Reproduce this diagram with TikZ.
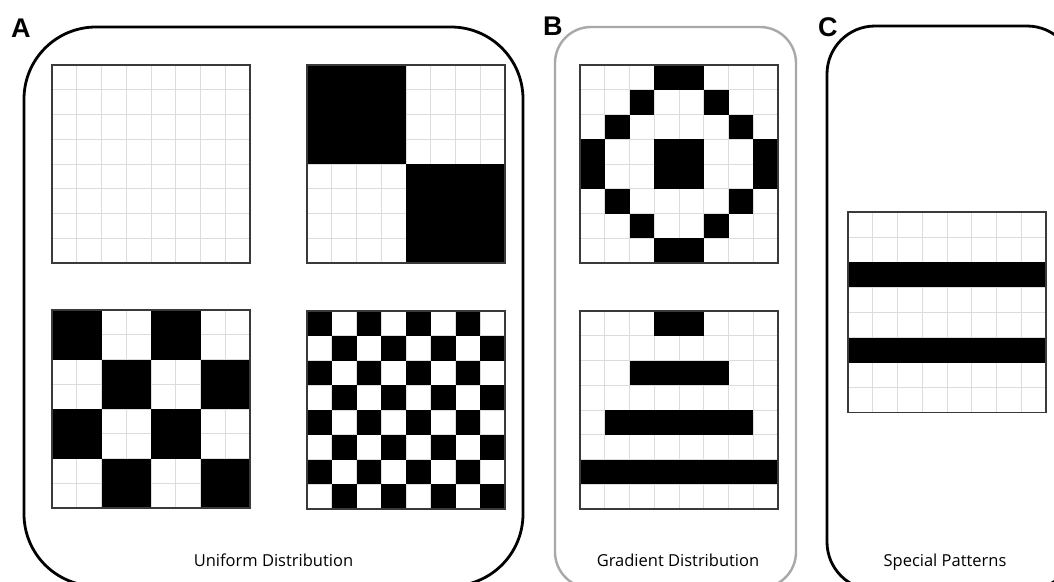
\documentclass[tikz,border=0pt]{standalone}
\usepackage{fontspec}
\setmainfont{Open Sans}
\newfontfamily\lblfont{Liberation Sans}
\definecolor{gridc}{HTML}{DCDCDC}
\definecolor{bframe}{HTML}{A8A8A8}
\definecolor{bordc}{HTML}{3A3A3A}
\tikzset{
  frameblack/.style={draw=black, line width=2.8pt},
  framegray/.style={draw=bframe, line width=2.4pt},
  gridline/.style={draw=gridc, line width=0.9pt},
  gridborder/.style={draw=bordc, line width=1.3pt},
  caption/.style={font=\fontsize{16.5}{18}\selectfont, anchor=base, inner sep=0pt},
  panellbl/.style={font=\lblfont\bfseries\fontsize{27}{30}\selectfont, anchor=base west, inner sep=0pt},
}
\newcommand\patgrid[5]{%
  \begin{scope}[shift={(#1,#2)}, x=#3pt, y=-#4pt]
    \fill[white] (0,0) rectangle (8,8);
    \foreach \k in {1,...,7} {
      \draw[gridline] (\k,0) -- (\k,8);
      \draw[gridline] (0,\k) -- (8,\k);
    }
    \foreach \a/\b/\c/\d in {#5} { \fill[black] (\a,\b) rectangle (\c,\d); }
    \draw[gridborder] (0,0) rectangle (8,8);
  \end{scope}}
\begin{document}
\begin{tikzpicture}[x=1pt,y=-1pt]
\useasboundingbox (0,0) rectangle (1054,581);
\clip (0,0) rectangle (1054,581);
\fill[white] (0,0) rectangle (1054,581);
% frames
\draw[frameblack, rounded corners=72pt] (24,27) rectangle (523,586);
\draw[framegray, rounded corners=36pt] (555,27) rectangle (796,588);
\draw[frameblack, rounded corners=48pt] (827,26) rectangle (1075,590);
% panel A
\patgrid{52}{65}{24.75}{24.75}{0/0/0/0}
\patgrid{307}{65}{24.75}{24.75}{0/0/4/4, 4/4/8/8}
\patgrid{52}{310}{24.75}{24.75}{0/0/2/2, 4/0/6/2, 2/2/4/4, 6/2/8/4, 0/4/2/6, 4/4/6/6, 2/6/4/8, 6/6/8/8}
\begin{scope}
\patgrid{307}{311}{24.75}{24.75}{0/0/1/1,2/0/3/1,4/0/5/1,6/0/7/1,
 1/1/2/2,3/1/4/2,5/1/6/2,7/1/8/2,
 0/2/1/3,2/2/3/3,4/2/5/3,6/2/7/3,
 1/3/2/4,3/3/4/4,5/3/6/4,7/3/8/4,
 0/4/1/5,2/4/3/5,4/4/5/5,6/4/7/5,
 1/5/2/6,3/5/4/6,5/5/6/6,7/5/8/6,
 0/6/1/7,2/6/3/7,4/6/5/7,6/6/7/7,
 1/7/2/8,3/7/4/8,5/7/6/8,7/7/8/8}
\end{scope}
% panel B
\patgrid{580}{65}{24.75}{24.75}{3/0/5/1, 2/1/3/2, 5/1/6/2, 1/2/2/3, 6/2/7/3,
 0/3/1/5, 3/3/5/5, 7/3/8/5, 1/5/2/6, 6/5/7/6, 2/6/3/7, 5/6/6/7, 3/7/5/8}
\patgrid{580}{311}{24.75}{24.75}{3/0/5/1, 2/2/6/3, 1/4/7/5, 0/6/8/7}
% panel C
\patgrid{848}{212}{24.75}{25.1}{0/2/8/3, 0/5/8/6}
% labels
\node[panellbl] (lA) at (11,37) {A};
\node[panellbl] (lB) at (543,35) {B};
\node[panellbl] (lC) at (818,36) {C};
\node[caption] (cA) at (273.5,566) {Uniform Distribution};
\node[caption] (cB) at (678,566) {Gradient Distribution};
\node[caption] (cC) at (945,566) {Special Patterns};
\end{tikzpicture}
\end{document}
